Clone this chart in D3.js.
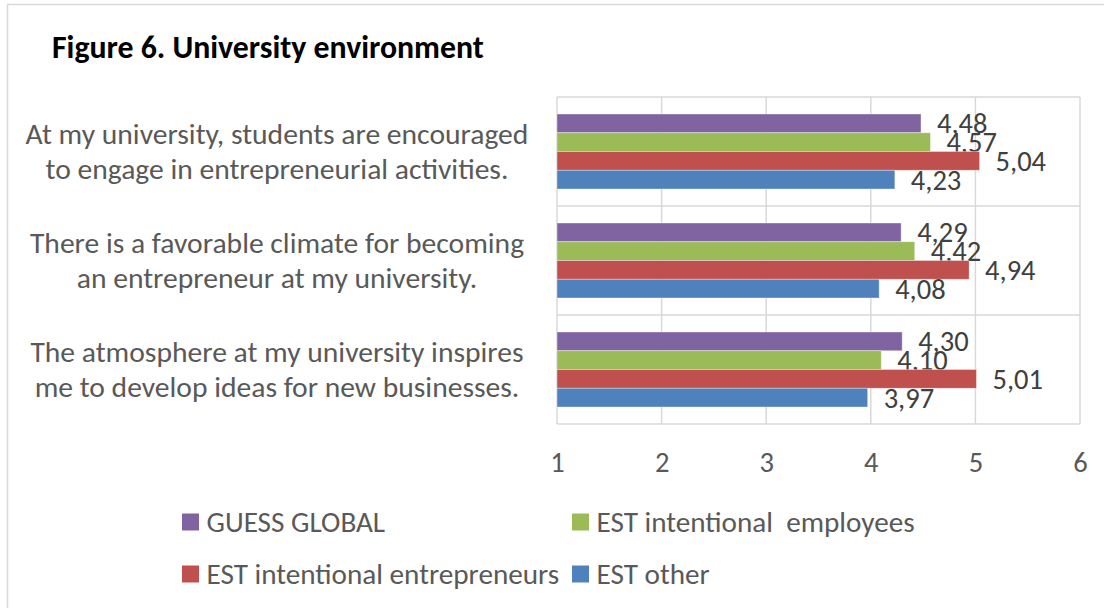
<!DOCTYPE html>
<html>
<head>
<meta charset="utf-8">
<script src="https://cdn.jsdelivr.net/npm/d3@7"></script>
<style>
  html, body { margin: 0; padding: 0; background: #fff; }
  svg { display: block; }
  text { font-family: Carlito, Calibri, "Open Sans", sans-serif; }
</style>
</head>
<body>
<svg id="chart" width="1104" height="608"></svg>
<script>
// Survey statements (category axis, top to bottom)
const categories = [
  ["At my university, students are encouraged", "to engage in entrepreneurial activities."],
  ["There is a favorable climate for becoming", "an entrepreneur at my university."],
  ["The atmosphere at my university inspires", "me to develop ideas for new businesses."]
];

// Series names, in drawing order within each group (top to bottom)
const seriesNames = ["GUESS GLOBAL", "EST intentional  employees", "EST intentional entrepreneurs", "EST other"];
const seriesColors = ["#8064A2", "#9BBB59", "#C0504D", "#4F81BD"];

// Mean scores per series, one value per statement
const guessGlobal = [4.48, 4.29, 4.30];
const estEmployees = [4.57, 4.42, 4.10];
const estEntrepreneurs = [5.04, 4.94, 5.01];
const estOther = [4.23, 4.08, 3.97];

// Value axis ticks
const xTicks = [1, 2, 3, 4, 5, 6];

const seriesValues = [guessGlobal, estEmployees, estEntrepreneurs, estOther];

const svg = d3.select("#chart");
const W = 1104, H = 608;

// Outer chart frame
svg.append("rect")
  .attr("x", 7.5).attr("y", 4.5)
  .attr("width", W + 20).attr("height", H + 20)
  .attr("fill", "#fff").attr("stroke", "#D9D9D9").attr("stroke-width", 1.5);

// Title
svg.append("text")
  .attr("x", 52).attr("y", 58)
  .attr("font-size", 31.8).attr("font-weight", "bold")
  .attr("fill", "#000")
  .text("Figure 6. University environment");

const plot = { left: 557, right: 1080, top: 97, bottom: 424 };

const x = d3.scaleLinear().domain([1, 6]).range([plot.left, plot.right]);
const y = d3.scaleBand().domain(d3.range(categories.length)).range([plot.top, plot.bottom]).padding(0);
const inner = d3.scaleBand().domain(d3.range(seriesNames.length))
  .range([y.bandwidth() * 0.156, y.bandwidth() * 0.844]).padding(0);

const grid = svg.append("g").attr("stroke", "#D9D9D9").attr("stroke-width", 1.5);

// Vertical gridlines at each tick
grid.selectAll("line.v").data(xTicks).join("line")
  .attr("class", "v")
  .attr("x1", d => x(d)).attr("x2", d => x(d))
  .attr("y1", plot.top).attr("y2", plot.bottom);

// Horizontal lines at category boundaries
const bounds = d3.range(categories.length + 1).map(i => i === categories.length ? plot.bottom : y(i));
grid.selectAll("line.h").data(bounds).join("line")
  .attr("class", "h")
  .attr("x1", plot.left).attr("x2", plot.right)
  .attr("y1", d => d).attr("y2", d => d);

// Bars
const groups = svg.append("g").selectAll("g").data(categories.map((c, i) => i)).join("g")
  .attr("transform", i => `translate(0,${y(i)})`);

const cells = groups.selectAll("g.cell")
  .data(i => seriesValues.map((vals, s) => ({ s, v: vals[i] })))
  .join("g").attr("class", "cell");

cells.append("rect")
  .attr("x", x(1))
  .attr("y", d => inner(d.s))
  .attr("width", d => x(d.v) - x(1))
  .attr("height", inner.bandwidth())
  .attr("fill", d => seriesColors[d.s])
  .attr("stroke", "#fff").attr("stroke-opacity", 0.45).attr("stroke-width", 0.8);

// Value labels, decimal comma
const fmt = v => d3.format(".2f")(v).replace(".", ",");
cells.append("text")
  .attr("x", d => x(d.v) + 16)
  .attr("y", d => inner(d.s) + inner.bandwidth() / 2)
  .attr("dy", "0.35em")
  .attr("font-size", 28.5)
  .attr("fill", "#404040")
  .text(d => fmt(d.v));

// Value axis tick labels
const xAxis = d3.axisBottom(x).tickValues(xTicks).tickSize(0).tickPadding(0).tickFormat(d3.format("d"));
const xg = svg.append("g").attr("transform", `translate(0,462)`).call(xAxis);
xg.select(".domain").remove();
xg.selectAll("text")
  .attr("y", 0).attr("dy", "0.35em")
  .attr("font-size", 28.5)
  .attr("font-family", "Carlito, Calibri, 'Open Sans', sans-serif")
  .attr("fill", "#595959");

// Category labels, two centred lines each
const catG = svg.append("g").selectAll("text").data(categories).join("text")
  .attr("text-anchor", "middle")
  .attr("font-size", 29.6)
  .attr("fill", "#595959");
catG.each(function (lines, i) {
  const cy = y(i) + y.bandwidth() / 2;
  d3.select(this).selectAll("tspan").data(lines).join("tspan")
    .attr("x", 277)
    .attr("y", (d, k) => cy + (k - 0.5) * 35)
    .attr("dy", "0.35em")
    .text(d => d);
});

// Legend: two columns, two rows
const legendPos = [
  { x: 182, y: 522 }, { x: 572, y: 522 },
  { x: 182, y: 574 }, { x: 572, y: 574 }
];
const leg = svg.append("g").selectAll("g").data(seriesNames).join("g")
  .attr("transform", (d, i) => `translate(${legendPos[i].x},${legendPos[i].y})`);
leg.append("rect")
  .attr("x", 0).attr("y", -8.5).attr("width", 17).attr("height", 17)
  .attr("fill", (d, i) => seriesColors[i]);
leg.append("text")
  .attr("x", 24.5).attr("y", 0).attr("dy", "0.35em")
  .attr("font-size", 29.2)
  .attr("fill", "#595959")
  .style("white-space", "pre")
  .text(d => d);
</script>
</body>
</html>
